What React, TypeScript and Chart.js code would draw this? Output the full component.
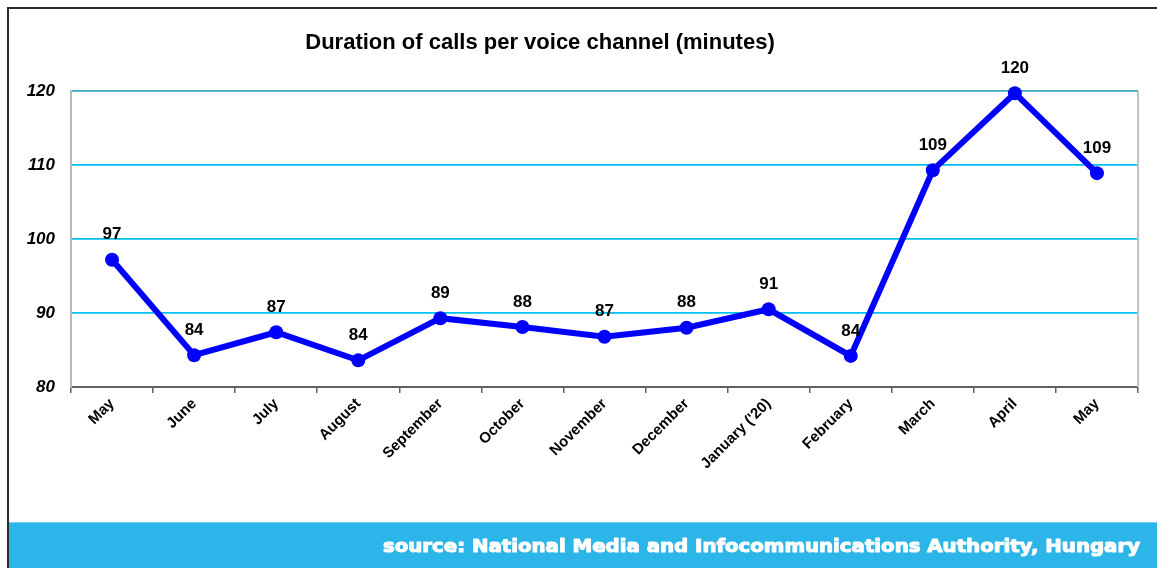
import { useEffect, useRef } from "react";
import { Chart, registerables } from "chart.js";

Chart.register(...registerables);

const months = [
  "May",
  "June",
  "July",
  "August",
  "September",
  "October",
  "November",
  "December",
  "January ('20)",
  "February",
  "March",
  "April",
  "May",
];
const durations = [97.2, 84.3, 87.4, 83.6, 89.3, 88.1, 86.8, 88.0, 90.5, 84.2, 109.3, 119.7, 108.9];
const valueLabels = ["97", "84", "87", "84", "89", "88", "87", "88", "91", "84", "109", "120", "109"];
const yTicks = [80, 90, 100, 110, 120];
const chartTitle = "Duration of calls per voice channel (minutes)";
const sourceText = "source: National Media and Infocommunications Authority, Hungary";

const W = 1157;
const H = 568;
const FONT = "'Liberation Sans', Arial, sans-serif";

const decorPlugin = {
  id: "decor",
  beforeDraw(chart: any) {
    const ctx = chart.ctx;
    ctx.save();
    ctx.fillStyle = "#ffffff";
    ctx.fillRect(0, 0, W, H);
    // outer frame
    ctx.strokeStyle = "#2b2b2b";
    ctx.lineWidth = 2;
    ctx.beginPath();
    ctx.moveTo(8, H);
    ctx.lineTo(8, 8);
    ctx.lineTo(W, 8);
    ctx.stroke();
    // footer band
    ctx.fillStyle = "#2bb5e8";
    ctx.fillRect(9, 522, W - 9, H - 522);
    ctx.fillStyle = "#6fd0f2";
    ctx.fillRect(9, 522, W - 9, 1);
    // footer text
    ctx.fillStyle = "#ffffff";
    ctx.strokeStyle = "#ffffff";
    ctx.lineWidth = 1.1;
    ctx.lineJoin = "round";
    ctx.font = `bold 18px 'DejaVu Sans', sans-serif`;
    const tw = ctx.measureText(sourceText).width;
    const target = 757;
    ctx.save();
    ctx.translate(1140 - target, 552);
    ctx.scale(target / tw, 1);
    ctx.textAlign = "left";
    ctx.textBaseline = "alphabetic";
    ctx.fillText(sourceText, 0, 0);
    ctx.strokeText(sourceText, 0, 0);
    ctx.restore();
    // title
    ctx.fillStyle = "#000000";
    ctx.font = `bold 22px ${FONT}`;
    ctx.textAlign = "center";
    ctx.textBaseline = "middle";
    ctx.fillText(chartTitle, 540, 43);
    ctx.restore();
  },
  afterDatasetsDraw(chart: any) {
    const ctx = chart.ctx;
    const area = chart.chartArea;
    ctx.save();
    // right plot border
    ctx.strokeStyle = "#c0c0c0";
    ctx.lineWidth = 2;
    ctx.beginPath();
    ctx.moveTo(area.right, area.top);
    ctx.lineTo(area.right, area.bottom);
    ctx.stroke();
    // value labels
    const meta = chart.getDatasetMeta(0);
    ctx.fillStyle = "#000000";
    ctx.font = `bold 17px ${FONT}`;
    ctx.textAlign = "center";
    ctx.textBaseline = "middle";
    meta.data.forEach((pt: any, i: number) => {
      ctx.fillText(valueLabels[i], pt.x, pt.y - 25);
    });
    ctx.restore();
  },
};

export default function App() {
  const ref = useRef<HTMLCanvasElement | null>(null);
  useEffect(() => {
    if (!ref.current) return;
    const chart = new Chart(ref.current, {
      type: "line",
      data: {
        labels: months,
        datasets: [
          {
            data: durations,
            borderColor: "#0000ff",
            backgroundColor: "#0000ff",
            borderWidth: 6,
            pointRadius: 7,
            pointHoverRadius: 7,
            pointBackgroundColor: "#0000ff",
            pointBorderWidth: 0,
            tension: 0,
            clip: false as any,
          },
        ],
      },
      options: {
        responsive: false,
        animation: false,
        devicePixelRatio: 1,
        layout: { padding: { left: 8, top: 91, right: 19, bottom: 0 } },
        plugins: {
          legend: { display: false },
          title: { display: false },
          tooltip: { enabled: false },
        },
        scales: {
          x: {
            offset: true,
            grid: {
              offset: true,
              drawOnChartArea: false,
              drawTicks: true,
              tickLength: 6,
              color: "#606060",
              lineWidth: 1.5,
            },
            border: { color: "#606060", width: 2 },
            ticks: {
              maxRotation: 45,
              minRotation: 45,
              autoSkip: false,
              color: "#000000",
              font: { family: FONT, size: 15, weight: "bold" },
              padding: 2,
            },
            afterFit(scale: any) {
              scale.height = H - 387;
            },
          },
          y: {
            min: 80,
            max: 120,
            afterBuildTicks(scale: any) {
              scale.ticks = yTicks.map((v) => ({ value: v }));
            },
            grid: {
              drawTicks: false,
              color: (c: any) =>
                c.tick && c.tick.value === 120 ? "#3aa6c0" : c.tick && c.tick.value === 80 ? "rgba(0,0,0,0)" : "#00c0ef",
              lineWidth: 1.8,
            },
            border: { color: "#b8b8b8", width: 2 },
            ticks: {
              color: "#000000",
              padding: 16,
              font: { family: FONT, size: 17, weight: "bold", style: "italic" },
            },
            afterFit(scale: any) {
              scale.width = 63;
            },
          },
        },
      },
      plugins: [decorPlugin],
    });
    return () => chart.destroy();
  }, []);
  return (
    <div style={{ position: "absolute", left: 0, top: 0, width: W, height: H, background: "#fff" }}>
      <canvas ref={ref} width={W} height={H} style={{ display: "block" }} />
    </div>
  );
}
